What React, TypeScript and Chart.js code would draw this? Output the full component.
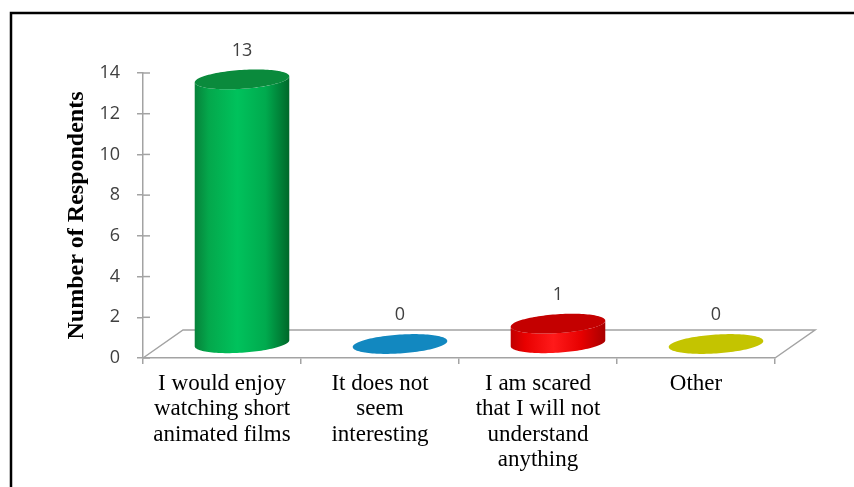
import React, { useEffect, useRef } from "react";
import { Chart, registerables } from "chart.js";

Chart.register(...registerables);

// ---- data ----
const categories: string[][] = [
  ["I would enjoy", "watching short", "animated films"],
  ["It does not", "seem", "interesting"],
  ["I am scared", "that I will not", "understand", "anything"],
  ["Other"],
];
const respondents: number[] = [13, 0, 1, 0];
const yTicks: number[] = [0, 2, 4, 6, 8, 10, 12, 14];
const yTitle = "Number of Respondents";

// ---- styles ----
const bodyStops: string[][] = [
  ["#07823a", "#04a84c", "#00c25c", "#00aa4e", "#00682a"],
  ["#006a9a", "#0a86bc", "#1a9ad0", "#0a86bc", "#005a85"],
  ["#c00000", "#e80000", "#ff1a1a", "#e60000", "#a80000"],
  ["#a0a000", "#baba00", "#d4d400", "#baba00", "#8a8a00"],
];
const topColors: string[] = ["#0a8a3c", "#1288c0", "#c40000", "#c4c400"];
const DEPTH_X = 40;
const DEPTH_Y = 28;
const GRAY = "#a3a3a3";

const cylinderPlugin = {
  id: "cyl3d",
  beforeDraw(chart: any) {
    const ctx = chart.ctx;
    ctx.save();
    ctx.strokeStyle = "#000";
    ctx.lineWidth = 2.5;
    ctx.strokeRect(11, 13, 2000, 2000);
    ctx.restore();
  },
  beforeDatasetsDraw(chart: any) {
    const ctx = chart.ctx;
    const { left, right, bottom } = chart.chartArea;
    ctx.save();
    ctx.strokeStyle = GRAY;
    ctx.lineWidth = 1.5;
    ctx.beginPath();
    ctx.moveTo(left, bottom);
    ctx.lineTo(left + DEPTH_X, bottom - DEPTH_Y);
    ctx.lineTo(right + DEPTH_X, bottom - DEPTH_Y);
    ctx.lineTo(right, bottom);
    ctx.stroke();
    // inner halves of the y tick marks
    const ys = chart.scales.y;
    ys.ticks.forEach((t: any) => {
      const py = ys.getPixelForValue(t.value);
      ctx.beginPath();
      ctx.moveTo(left, py);
      ctx.lineTo(left + 7, py);
      ctx.stroke();
    });
    ctx.restore();
  },
  afterDatasetsDraw(chart: any) {
    const ctx = chart.ctx;
    const meta = chart.getDatasetMeta(0);
    meta.data.forEach((el: any, i: number) => {
      const { x, y, base, width } = el.getProps(["x", "y", "base", "width"], true);
      const cx = x + DEPTH_X / 2;
      const cyTop = y - DEPTH_Y / 2;
      const cyBot = base - DEPTH_Y / 2;
      const a = width / 2;
      const s = a * 0.32;
      const b = a * 0.22;
      const R = Math.sqrt(a * a + s * s);
      const th0 = Math.atan2(s, a);
      const P = (cy: number, t: number) => [cx + a * Math.cos(t) + s * Math.sin(t), cy - b * Math.sin(t)];
      const N = 60;
      ctx.save();
      if (cyBot - cyTop > 0.5) {
        const g = ctx.createLinearGradient(cx - R, 0, cx + R, 0);
        const st = bodyStops[i];
        const pos = [0, 0.15, 0.45, 0.75, 1];
        st.forEach((c, k) => g.addColorStop(pos[k], c));
        ctx.fillStyle = g;
        ctx.beginPath();
        for (let k = 0; k <= N; k++) {
          const t = th0 - (Math.PI * k) / N;
          const [px, py] = P(cyBot, t);
          if (k === 0) ctx.moveTo(px, py);
          else ctx.lineTo(px, py);
        }
        for (let k = 0; k <= N; k++) {
          const t = th0 - Math.PI + (Math.PI * k) / N;
          const [px, py] = P(cyTop, t);
          ctx.lineTo(px, py);
        }
        ctx.closePath();
        ctx.fill();
      }
      ctx.fillStyle = topColors[i];
      ctx.beginPath();
      for (let k = 0; k <= 2 * N; k++) {
        const t = (Math.PI * k) / N;
        const [px, py] = P(cyTop, t);
        if (k === 0) ctx.moveTo(px, py);
        else ctx.lineTo(px, py);
      }
      ctx.closePath();
      ctx.fill();
      // data label
      ctx.fillStyle = "#404040";
      ctx.font = "18px 'Open Sans'";
      ctx.textAlign = "center";
      ctx.textBaseline = "middle";
      ctx.fillText(String(respondents[i]), cx, cyTop - b - 19);
      ctx.restore();
    });
  },
};

export default function App() {
  const ref = useRef<HTMLCanvasElement | null>(null);
  useEffect(() => {
    document.body.style.margin = "0";
    const canvas = ref.current!;
    const chart = new Chart(canvas, {
      type: "bar",
      data: {
        labels: categories,
        datasets: [
          {
            data: respondents,
            backgroundColor: "rgba(0,0,0,0)",
            borderWidth: 0,
            categoryPercentage: 1,
            barPercentage: 0.57,
          },
        ],
      },
      options: {
        responsive: false,
        animation: false,
        events: [],
        layout: { padding: { top: 73, right: 79, left: 0, bottom: 0 } },
        plugins: { legend: { display: false }, tooltip: { enabled: false } },
        scales: {
          x: {
            offset: true,
            grid: {
              offset: true,
              drawOnChartArea: false,
              drawTicks: true,
              tickLength: 6,
              color: GRAY,
              lineWidth: 1.5,
            },
            border: { display: true, color: GRAY, width: 1.5 },
            ticks: {
              color: "#000",
              font: { family: "'Liberation Serif'", size: 23, lineHeight: 1.11 },
              padding: 7,
              maxRotation: 0,
              autoSkip: false,
            },
            afterFit(scale: any) {
              scale.height = 129;
            },
          },
          y: {
            min: yTicks[0],
            max: yTicks[yTicks.length - 1],
            ticks: {
              stepSize: yTicks[1] - yTicks[0],
              color: "#404040",
              font: { family: "'Open Sans'", size: 18 },
              padding: 17,
            },
            grid: {
              drawOnChartArea: false,
              drawTicks: true,
              tickLength: 6,
              color: GRAY,
              lineWidth: 1.5,
            },
            border: { display: true, color: GRAY, width: 1.5 },
            title: {
              display: true,
              text: yTitle,
              color: "#000",
              font: { family: "'Liberation Serif'", size: 24, weight: "bold" },
              padding: { top: 62, bottom: 0 },
            },
            afterFit(scale: any) {
              scale.width = 143;
            },
          },
        },
      },
      plugins: [cylinderPlugin],
    });
    let alive = true;
    (document as any).fonts?.ready?.then(() => {
      if (alive) chart.update();
    });
    return () => {
      alive = false;
      chart.destroy();
    };
  }, []);
  return (
    <div style={{ width: 854, height: 487, position: "relative" }}>
      <canvas ref={ref} width={854} height={487} style={{ display: "block" }} />
    </div>
  );
}
